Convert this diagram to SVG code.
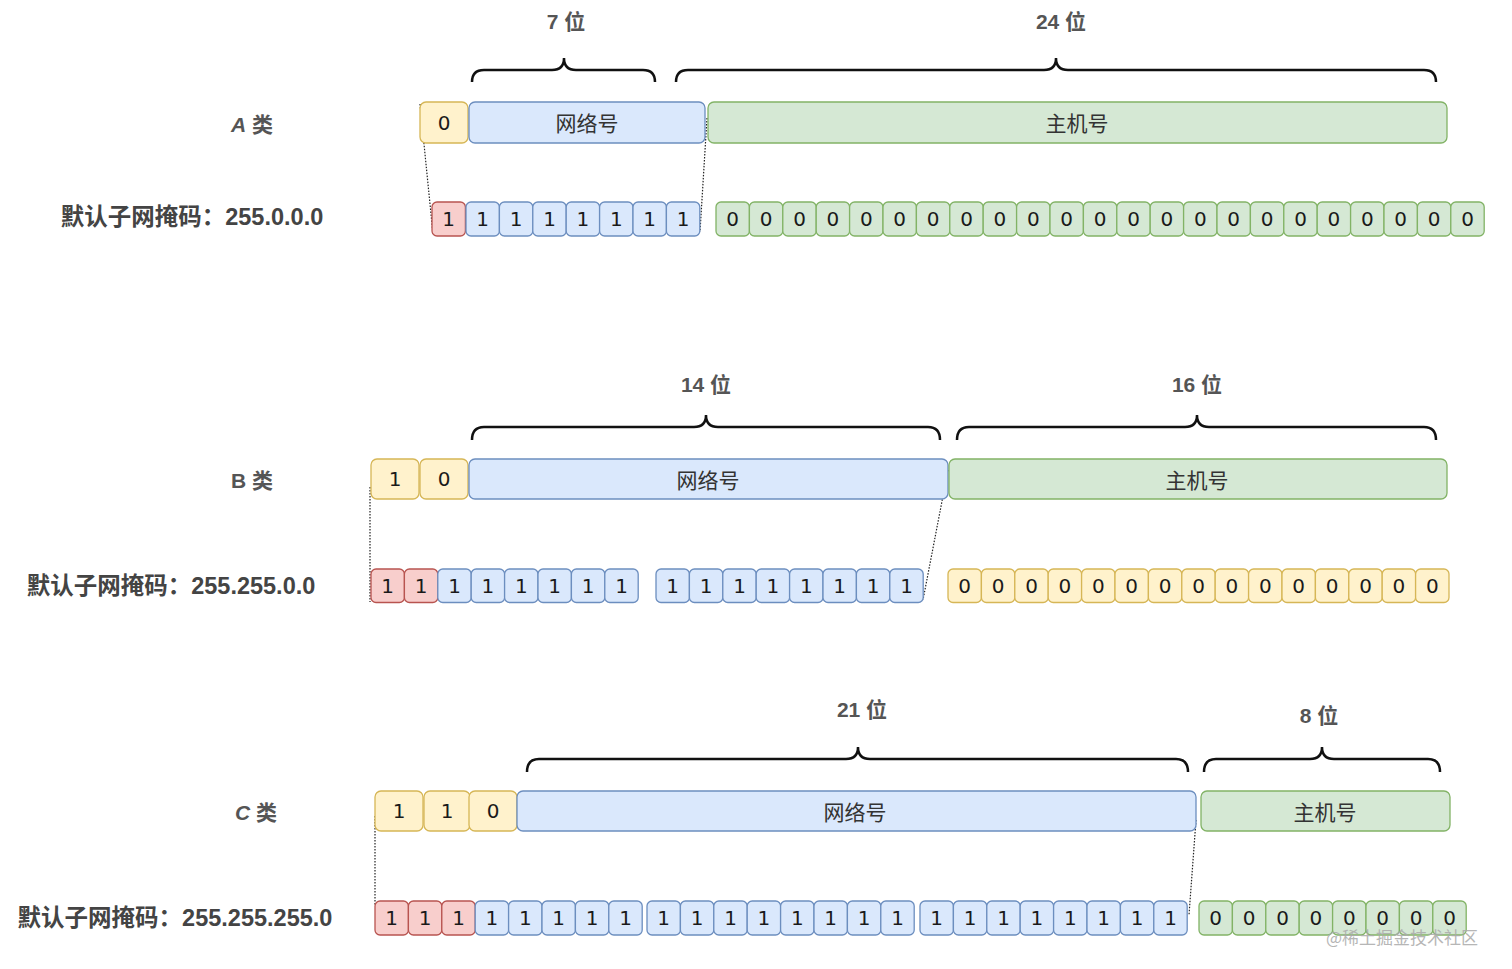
<svg xmlns="http://www.w3.org/2000/svg" width="1512" height="969" viewBox="0 0 1512 969">
<style>
.bg{fill:#ffffff}
.y{fill:#fff2cc;stroke:#d6b656;stroke-width:1.3}
.b{fill:#dae8fc;stroke:#6c8ebf;stroke-width:1.3}
.g{fill:#d5e8d4;stroke:#82b366;stroke-width:1.3}
.r{fill:#f8cecc;stroke:#b85450;stroke-width:1.3}
.d{font-family:"DejaVu Sans","Liberation Sans",sans-serif;font-size:20px;fill:#1a1a1a;text-anchor:middle}
.cjk{font-family:"Noto Sans CJK SC","Noto Sans",sans-serif;font-size:21px;fill:#333;text-anchor:middle}
.lbl{font-family:"Liberation Sans","Noto Sans CJK SC",sans-serif;font-size:21px;font-weight:bold;fill:#555;text-anchor:middle}
.mask{font-family:"Liberation Sans","Noto Sans CJK SC",sans-serif;font-size:23.5px;font-weight:bold;fill:#444;text-anchor:middle}
.brace{fill:none;stroke:#111;stroke-width:2.5}
.dot{fill:none;stroke:#222;stroke-width:1.2;stroke-dasharray:1.5 1.5}
.wm{font-family:"Noto Sans CJK SC",sans-serif;font-size:17px;fill:#aaa;opacity:0.85}
</style>
<rect class="bg" x="0" y="0" width="1512" height="969"/>

<g id="labels">
<text class="lbl" x="566" y="29">7 位</text>
<text class="lbl" x="1061" y="29">24 位</text>
<text class="lbl" x="706" y="392">14 位</text>
<text class="lbl" x="1197" y="392">16 位</text>
<text class="lbl" x="862" y="717">21 位</text>
<text class="lbl" x="1319" y="723">8 位</text>
<text class="lbl" x="252" y="132"><tspan font-style="italic">A</tspan> 类</text>
<text class="lbl" x="252" y="488">B 类</text>
<text class="lbl" x="256" y="820"><tspan font-style="italic">C</tspan> 类</text>
<text class="mask" x="192" y="225">默认子网掩码：255.0.0.0</text>
<text class="mask" x="171" y="594">默认子网掩码：255.255.0.0</text>
<text class="mask" x="175" y="926">默认子网掩码：255.255.255.0</text>
</g>

<g id="braces">
<path class="brace" d="M472,82 Q472,70 484,70 L552,70 Q564,70 564,58 Q564,70 576,70 L643,70 Q655,70 655,82"/>
<path class="brace" d="M676,82 Q676,70 688,70 L1044,70 Q1056,70 1056,58 Q1056,70 1068,70 L1424,70 Q1436,70 1436,82"/>
<path class="brace" d="M472,440 Q472,427 484,427 L694,427 Q706,427 706,415 Q706,427 718,427 L928,427 Q940,427 940,440"/>
<path class="brace" d="M957,440 Q957,427 969,427 L1185,427 Q1197,427 1197,415 Q1197,427 1209,427 L1424,427 Q1436,427 1436,440"/>
<path class="brace" d="M527,772 Q527,759 539,759 L846,759 Q858,759 858,747 Q858,759 870,759 L1176,759 Q1188,759 1188,772"/>
<path class="brace" d="M1204,772 Q1204,759 1216,759 L1310,759 Q1322,759 1322,747 Q1322,759 1334,759 L1428,759 Q1440,759 1440,772"/>
</g>

<g id="connectors">
<path class="dot" d="M420,104 L433,234"/>
<path class="dot" d="M707,118 L700,232"/>
<path class="dot" d="M370,487 L370,602"/>
<path class="dot" d="M948,470 L923,600"/>
<path class="dot" d="M375,816 L375,905"/>
<path class="dot" d="M1196,820 L1189,915"/>
</g>

<g id="classA">
<rect class="y" x="420" y="102" width="48" height="41" rx="6"/><text class="d" x="444" y="130">0</text>
<rect class="b" x="469" y="102" width="236" height="41" rx="6"/><text class="cjk" x="587" y="131">网络号</text>
<rect class="g" x="708" y="102" width="739" height="41" rx="6"/><text class="cjk" x="1077" y="131">主机号</text>
</g>

<g id="maskA">
<rect class="r" x="432" y="202" width="33.4" height="34" rx="5"/><text class="d" x="448.7" y="226">1</text>
<rect class="b" x="466" y="202" width="33.4" height="34" rx="5"/><text class="d" x="482.7" y="226">1</text>
<rect class="b" x="499.4" y="202" width="33.4" height="34" rx="5"/><text class="d" x="516.1" y="226">1</text>
<rect class="b" x="532.8" y="202" width="33.4" height="34" rx="5"/><text class="d" x="549.5" y="226">1</text>
<rect class="b" x="566.2" y="202" width="33.4" height="34" rx="5"/><text class="d" x="582.9" y="226">1</text>
<rect class="b" x="599.6" y="202" width="33.4" height="34" rx="5"/><text class="d" x="616.3" y="226">1</text>
<rect class="b" x="633" y="202" width="33.4" height="34" rx="5"/><text class="d" x="649.7" y="226">1</text>
<rect class="b" x="666.4" y="202" width="33.4" height="34" rx="5"/><text class="d" x="683.1" y="226">1</text>
<rect class="g" x="716" y="202" width="33.4" height="34" rx="5"/><text class="d" x="732.7" y="226">0</text>
<rect class="g" x="749.4" y="202" width="33.4" height="34" rx="5"/><text class="d" x="766.1" y="226">0</text>
<rect class="g" x="782.8" y="202" width="33.4" height="34" rx="5"/><text class="d" x="799.5" y="226">0</text>
<rect class="g" x="816.2" y="202" width="33.4" height="34" rx="5"/><text class="d" x="832.9" y="226">0</text>
<rect class="g" x="849.6" y="202" width="33.4" height="34" rx="5"/><text class="d" x="866.3" y="226">0</text>
<rect class="g" x="883" y="202" width="33.4" height="34" rx="5"/><text class="d" x="899.7" y="226">0</text>
<rect class="g" x="916.4" y="202" width="33.4" height="34" rx="5"/><text class="d" x="933.1" y="226">0</text>
<rect class="g" x="949.8" y="202" width="33.4" height="34" rx="5"/><text class="d" x="966.5" y="226">0</text>
<rect class="g" x="983.2" y="202" width="33.4" height="34" rx="5"/><text class="d" x="999.9" y="226">0</text>
<rect class="g" x="1016.6" y="202" width="33.4" height="34" rx="5"/><text class="d" x="1033.3" y="226">0</text>
<rect class="g" x="1050" y="202" width="33.4" height="34" rx="5"/><text class="d" x="1066.7" y="226">0</text>
<rect class="g" x="1083.4" y="202" width="33.4" height="34" rx="5"/><text class="d" x="1100.1" y="226">0</text>
<rect class="g" x="1116.8" y="202" width="33.4" height="34" rx="5"/><text class="d" x="1133.5" y="226">0</text>
<rect class="g" x="1150.2" y="202" width="33.4" height="34" rx="5"/><text class="d" x="1166.9" y="226">0</text>
<rect class="g" x="1183.6" y="202" width="33.4" height="34" rx="5"/><text class="d" x="1200.3" y="226">0</text>
<rect class="g" x="1217" y="202" width="33.4" height="34" rx="5"/><text class="d" x="1233.7" y="226">0</text>
<rect class="g" x="1250.4" y="202" width="33.4" height="34" rx="5"/><text class="d" x="1267.1" y="226">0</text>
<rect class="g" x="1283.8" y="202" width="33.4" height="34" rx="5"/><text class="d" x="1300.5" y="226">0</text>
<rect class="g" x="1317.2" y="202" width="33.4" height="34" rx="5"/><text class="d" x="1333.9" y="226">0</text>
<rect class="g" x="1350.6" y="202" width="33.4" height="34" rx="5"/><text class="d" x="1367.3" y="226">0</text>
<rect class="g" x="1384" y="202" width="33.4" height="34" rx="5"/><text class="d" x="1400.7" y="226">0</text>
<rect class="g" x="1417.4" y="202" width="33.4" height="34" rx="5"/><text class="d" x="1434.1" y="226">0</text>
<rect class="g" x="1450.8" y="202" width="33.4" height="34" rx="5"/><text class="d" x="1467.5" y="226">0</text>
</g>

<g id="classB">
<rect class="y" x="371" y="459" width="48" height="40" rx="6"/><text class="d" x="395" y="486">1</text>
<rect class="y" x="420" y="459" width="48" height="40" rx="6"/><text class="d" x="444" y="486">0</text>
<rect class="b" x="469" y="459" width="479" height="40" rx="6"/><text class="cjk" x="708" y="488">网络号</text>
<rect class="g" x="949" y="459" width="498" height="40" rx="6"/><text class="cjk" x="1197" y="488">主机号</text>
</g>

<g id="maskB">
<rect class="r" x="371" y="569" width="33.4" height="33.5" rx="5"/><text class="d" x="387.7" y="593">1</text>
<rect class="r" x="404.4" y="569" width="33.4" height="33.5" rx="5"/><text class="d" x="421.1" y="593">1</text>
<rect class="b" x="437.8" y="569" width="33.4" height="33.5" rx="5"/><text class="d" x="454.5" y="593">1</text>
<rect class="b" x="471.2" y="569" width="33.4" height="33.5" rx="5"/><text class="d" x="487.9" y="593">1</text>
<rect class="b" x="504.6" y="569" width="33.4" height="33.5" rx="5"/><text class="d" x="521.3" y="593">1</text>
<rect class="b" x="538" y="569" width="33.4" height="33.5" rx="5"/><text class="d" x="554.7" y="593">1</text>
<rect class="b" x="571.4" y="569" width="33.4" height="33.5" rx="5"/><text class="d" x="588.1" y="593">1</text>
<rect class="b" x="604.8" y="569" width="33.4" height="33.5" rx="5"/><text class="d" x="621.5" y="593">1</text>
<rect class="b" x="656" y="569" width="33.4" height="33.5" rx="5"/><text class="d" x="672.7" y="593">1</text>
<rect class="b" x="689.4" y="569" width="33.4" height="33.5" rx="5"/><text class="d" x="706.1" y="593">1</text>
<rect class="b" x="722.8" y="569" width="33.4" height="33.5" rx="5"/><text class="d" x="739.5" y="593">1</text>
<rect class="b" x="756.2" y="569" width="33.4" height="33.5" rx="5"/><text class="d" x="772.9" y="593">1</text>
<rect class="b" x="789.6" y="569" width="33.4" height="33.5" rx="5"/><text class="d" x="806.3" y="593">1</text>
<rect class="b" x="823" y="569" width="33.4" height="33.5" rx="5"/><text class="d" x="839.7" y="593">1</text>
<rect class="b" x="856.4" y="569" width="33.4" height="33.5" rx="5"/><text class="d" x="873.1" y="593">1</text>
<rect class="b" x="889.8" y="569" width="33.4" height="33.5" rx="5"/><text class="d" x="906.5" y="593">1</text>
<rect class="y" x="948" y="569" width="33.4" height="33.5" rx="5"/><text class="d" x="964.7" y="593">0</text>
<rect class="y" x="981.4" y="569" width="33.4" height="33.5" rx="5"/><text class="d" x="998.1" y="593">0</text>
<rect class="y" x="1014.8" y="569" width="33.4" height="33.5" rx="5"/><text class="d" x="1031.5" y="593">0</text>
<rect class="y" x="1048.2" y="569" width="33.4" height="33.5" rx="5"/><text class="d" x="1064.9" y="593">0</text>
<rect class="y" x="1081.6" y="569" width="33.4" height="33.5" rx="5"/><text class="d" x="1098.3" y="593">0</text>
<rect class="y" x="1115" y="569" width="33.4" height="33.5" rx="5"/><text class="d" x="1131.7" y="593">0</text>
<rect class="y" x="1148.4" y="569" width="33.4" height="33.5" rx="5"/><text class="d" x="1165.1" y="593">0</text>
<rect class="y" x="1181.8" y="569" width="33.4" height="33.5" rx="5"/><text class="d" x="1198.5" y="593">0</text>
<rect class="y" x="1215.2" y="569" width="33.4" height="33.5" rx="5"/><text class="d" x="1231.9" y="593">0</text>
<rect class="y" x="1248.6" y="569" width="33.4" height="33.5" rx="5"/><text class="d" x="1265.3" y="593">0</text>
<rect class="y" x="1282" y="569" width="33.4" height="33.5" rx="5"/><text class="d" x="1298.7" y="593">0</text>
<rect class="y" x="1315.4" y="569" width="33.4" height="33.5" rx="5"/><text class="d" x="1332.1" y="593">0</text>
<rect class="y" x="1348.8" y="569" width="33.4" height="33.5" rx="5"/><text class="d" x="1365.5" y="593">0</text>
<rect class="y" x="1382.2" y="569" width="33.4" height="33.5" rx="5"/><text class="d" x="1398.9" y="593">0</text>
<rect class="y" x="1415.6" y="569" width="33.4" height="33.5" rx="5"/><text class="d" x="1432.3" y="593">0</text>
</g>

<g id="classC">
<rect class="y" x="375" y="791" width="48" height="40" rx="6"/><text class="d" x="399" y="818">1</text>
<rect class="y" x="424" y="791" width="46" height="40" rx="6"/><text class="d" x="447" y="818">1</text>
<rect class="y" x="469" y="791" width="48" height="40" rx="6"/><text class="d" x="493" y="818">0</text>
<rect class="b" x="517" y="791" width="679" height="40" rx="6"/><text class="cjk" x="855" y="820">网络号</text>
<rect class="g" x="1201" y="791" width="249" height="40" rx="6"/><text class="cjk" x="1325" y="820">主机号</text>
</g>

<g id="maskC">
<rect class="r" x="375" y="901" width="33.4" height="34" rx="5"/><text class="d" x="391.7" y="925">1</text>
<rect class="r" x="408.4" y="901" width="33.4" height="34" rx="5"/><text class="d" x="425.1" y="925">1</text>
<rect class="r" x="441.8" y="901" width="33.4" height="34" rx="5"/><text class="d" x="458.5" y="925">1</text>
<rect class="b" x="475.2" y="901" width="33.4" height="34" rx="5"/><text class="d" x="491.9" y="925">1</text>
<rect class="b" x="508.6" y="901" width="33.4" height="34" rx="5"/><text class="d" x="525.3" y="925">1</text>
<rect class="b" x="542" y="901" width="33.4" height="34" rx="5"/><text class="d" x="558.7" y="925">1</text>
<rect class="b" x="575.4" y="901" width="33.4" height="34" rx="5"/><text class="d" x="592.1" y="925">1</text>
<rect class="b" x="608.8" y="901" width="33.4" height="34" rx="5"/><text class="d" x="625.5" y="925">1</text>
<rect class="b" x="647" y="901" width="33.4" height="34" rx="5"/><text class="d" x="663.7" y="925">1</text>
<rect class="b" x="680.4" y="901" width="33.4" height="34" rx="5"/><text class="d" x="697.1" y="925">1</text>
<rect class="b" x="713.8" y="901" width="33.4" height="34" rx="5"/><text class="d" x="730.5" y="925">1</text>
<rect class="b" x="747.2" y="901" width="33.4" height="34" rx="5"/><text class="d" x="763.9" y="925">1</text>
<rect class="b" x="780.6" y="901" width="33.4" height="34" rx="5"/><text class="d" x="797.3" y="925">1</text>
<rect class="b" x="814" y="901" width="33.4" height="34" rx="5"/><text class="d" x="830.7" y="925">1</text>
<rect class="b" x="847.4" y="901" width="33.4" height="34" rx="5"/><text class="d" x="864.1" y="925">1</text>
<rect class="b" x="880.8" y="901" width="33.4" height="34" rx="5"/><text class="d" x="897.5" y="925">1</text>
<rect class="b" x="920" y="901" width="33.4" height="34" rx="5"/><text class="d" x="936.7" y="925">1</text>
<rect class="b" x="953.4" y="901" width="33.4" height="34" rx="5"/><text class="d" x="970.1" y="925">1</text>
<rect class="b" x="986.8" y="901" width="33.4" height="34" rx="5"/><text class="d" x="1003.5" y="925">1</text>
<rect class="b" x="1020.2" y="901" width="33.4" height="34" rx="5"/><text class="d" x="1036.9" y="925">1</text>
<rect class="b" x="1053.6" y="901" width="33.4" height="34" rx="5"/><text class="d" x="1070.3" y="925">1</text>
<rect class="b" x="1087" y="901" width="33.4" height="34" rx="5"/><text class="d" x="1103.7" y="925">1</text>
<rect class="b" x="1120.4" y="901" width="33.4" height="34" rx="5"/><text class="d" x="1137.1" y="925">1</text>
<rect class="b" x="1153.8" y="901" width="33.4" height="34" rx="5"/><text class="d" x="1170.5" y="925">1</text>
<rect class="g" x="1199" y="901" width="33.4" height="34" rx="5"/><text class="d" x="1215.7" y="925">0</text>
<rect class="g" x="1232.4" y="901" width="33.4" height="34" rx="5"/><text class="d" x="1249.1" y="925">0</text>
<rect class="g" x="1265.8" y="901" width="33.4" height="34" rx="5"/><text class="d" x="1282.5" y="925">0</text>
<rect class="g" x="1299.2" y="901" width="33.4" height="34" rx="5"/><text class="d" x="1315.9" y="925">0</text>
<rect class="g" x="1332.6" y="901" width="33.4" height="34" rx="5"/><text class="d" x="1349.3" y="925">0</text>
<rect class="g" x="1366" y="901" width="33.4" height="34" rx="5"/><text class="d" x="1382.7" y="925">0</text>
<rect class="g" x="1399.4" y="901" width="33.4" height="34" rx="5"/><text class="d" x="1416.1" y="925">0</text>
<rect class="g" x="1432.8" y="901" width="33.4" height="34" rx="5"/><text class="d" x="1449.5" y="925">0</text>
</g>

<text class="wm" x="1326" y="944">@稀土掘金技术社区</text>
</svg>
